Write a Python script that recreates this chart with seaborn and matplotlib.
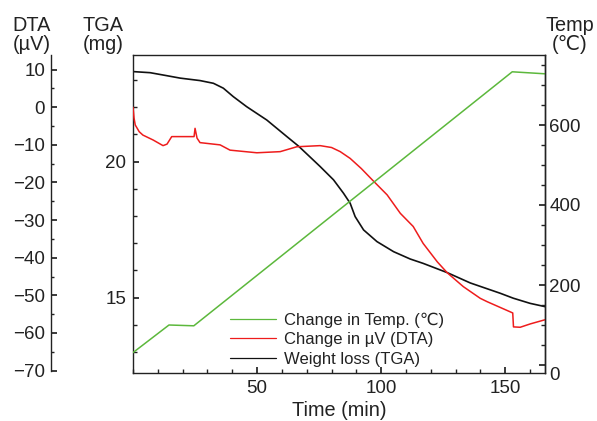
"""DTA / TGA / temperature curves against time, three y axes."""

import matplotlib.pyplot as plt
import matplotlib.transforms as mtransforms
from matplotlib.ticker import MultipleLocator, FixedLocator
import seaborn as sns

# temperature programme (deg C)
temp_time = [0, 14.5, 24.5, 152.8, 166]
temp_val = [31, 100, 98, 733, 728]

# DTA signal (uV)
dta_time = [0, 0.4, 0.9, 2.5, 4.0, 8.1, 12.1, 13.7, 15.6, 19, 24.6, 25.0, 25.8, 27.0,
            35.1, 39.1, 49.9, 59.3, 66.0, 75.4, 80.0, 83.5, 87.5, 92.0, 96.4, 102.4,
            107.7, 112.9, 116.9, 122.6, 126.6, 133.1, 139.9, 142.7, 152.0, 153.0,
            153.3, 156.0, 160.1, 166]
dta_val = [0, -2.8, -4.7, -6.5, -7.4, -8.7, -10.2, -9.8, -7.8, -7.8, -7.8, -5.6, -8.2,
           -9.4, -10.0, -11.4, -12.1, -11.8, -10.5, -10.2, -10.7, -11.8, -13.6, -16.3,
           -19.3, -23.3, -28.2, -31.7, -36.2, -41.1, -44.0, -47.7, -50.8, -51.7, -54.4,
           -54.7, -58.4, -58.5, -57.6, -56.5]

# TGA weight (mg)
tga_time = [0, 6.9, 13.0, 19.0, 27.0, 32.4, 36.4, 40.4, 45.8, 53.9, 62.0, 66.7, 71.0,
            75.4, 80.8, 84.8, 87.5, 89.5, 92.9, 98.3, 105.0, 111.7, 116.9, 126.6, 135.9,
            148.0, 153.2, 160.0, 166.0]
tga_val = [23.31, 23.27, 23.17, 23.07, 22.98, 22.88, 22.70, 22.39, 22.02, 21.53, 20.92,
           20.57, 20.20, 19.82, 19.33, 18.84, 18.47, 17.98, 17.49, 17.06, 16.69, 16.42,
           16.26, 15.92, 15.54, 15.16, 14.98, 14.79, 14.67]

legend_labels = ["Change in Temp. (\u2103)", "Change in \u00b5V (DTA)", "Weight loss (TGA)"]

GREEN = "#5cb83c"
RED = "#ee1c1c"
BLACK = "#111111"
TICK_FS = 13.5
TITLE_FS = 14.3
LEGEND_FS = 12

sns.set_theme(style="ticks")
plt.rcParams.update({
    "font.family": ["Liberation Sans", "DejaVu Sans"],
    "font.size": TICK_FS,
    "axes.linewidth": 1.0,
    "axes.edgecolor": "#222222",
    "xtick.color": "#222222",
    "ytick.color": "#222222",
    "text.color": "#222222",
    "axes.labelcolor": "#222222",
})

fig = plt.figure(figsize=(5.97, 4.21), dpi=100)
ax = fig.add_axes([133 / 597, 1 - 373 / 421, 412 / 597, 318 / 421])
ax_dta = ax.twinx()
ax_temp = ax.twinx()

sns.lineplot(x=temp_time, y=temp_val, ax=ax_temp, color=GREEN, lw=1.1)
sns.lineplot(x=dta_time, y=dta_val, ax=ax_dta, color=RED, lw=1.1)
sns.lineplot(x=tga_time, y=tga_val, ax=ax, color=BLACK, lw=1.2)

ax.set_xlim(0, 166)
ax.set_ylim(12.23, 23.92)
ax_dta.set_ylim(-70.66, 13.9)
ax_temp.set_ylim(-20, 775)

# time axis
ax.xaxis.set_major_locator(FixedLocator([50, 100, 150]))
ax.xaxis.set_minor_locator(MultipleLocator(10))
ax.set_xlabel("Time (min)", fontsize=TITLE_FS, labelpad=3)

# TGA axis (inner left)
ax.yaxis.set_major_locator(FixedLocator([15, 20]))
ax.yaxis.set_minor_locator(MultipleLocator(1))
ax.set_ylabel("")
ax.tick_params(which="both", direction="in", labelsize=TICK_FS, pad=5)
ax.tick_params(which="major", length=4)
ax.tick_params(which="minor", length=3)

# DTA axis (outer left)
ax_dta.spines["right"].set_visible(False)
ax_dta.spines["top"].set_visible(False)
ax_dta.spines["bottom"].set_visible(False)
ax_dta.spines["left"].set_visible(True)
ax_dta.spines["left"].set_position(("axes", (50.7 - 133) / 412))
ax_dta.spines["left"].set_bounds(-70, 13.9)
ax_dta.yaxis.set_ticks_position("left")
ax_dta.yaxis.set_label_position("left")
ax_dta.yaxis.set_minor_locator(MultipleLocator(5))
ax_dta.set_yticks(range(-70, 11, 10))
ax_dta.set_yticklabels([str(v).replace("-", "\u2212") for v in range(-70, 11, 10)])
ax_dta.tick_params(which="both", direction="in", labelsize=TICK_FS, pad=4)
ax_dta.tick_params(which="major", length=4)
ax_dta.tick_params(which="minor", length=2.5)
ax_dta.set_ylabel("")

# temperature axis (right)
for side in ["left", "top", "bottom"]:
    ax_temp.spines[side].set_visible(False)
ax_temp.yaxis.set_major_locator(FixedLocator([0, 200, 400, 600]))
ax_temp.yaxis.set_minor_locator(MultipleLocator(50))
ax_temp.tick_params(which="both", direction="in", labelsize=TICK_FS, pad=3)
ax_temp.tick_params(which="major", length=4)
ax_temp.tick_params(which="minor", length=3)
ax_temp.set_ylabel("")

# the "0" on the temperature axis sits at the bottom edge in the original
shift = mtransforms.ScaledTranslation(0, -8 / 100, fig.dpi_scale_trans)
zero_label = ax_temp.yaxis.get_major_ticks()[0].label2
zero_label.set_transform(zero_label.get_transform() + shift)

# axis titles
for xc, txt in [(32, "DTA\n(\u00b5V)"), (103, "TGA\n(mg)"), (570, "Temp\n(\u2103)")]:
    fig.text(xc / 597, 1 - 16 / 421, txt, ha="center", va="top",
             fontsize=TITLE_FS, linespacing=1.02)

handles = [ax_temp.get_lines()[0], ax_dta.get_lines()[0], ax.get_lines()[0]]
ax.legend(handles, legend_labels, loc="lower left", bbox_to_anchor=(0.235, 0.02),
          frameon=False, fontsize=LEGEND_FS, handlelength=2.8, handletextpad=0.45,
          labelspacing=0.27, borderpad=0, borderaxespad=0)
for line in ax.get_legend().get_lines():
    line.set_linewidth(0.9)

fig.savefig("out.png", dpi=100, facecolor="white")
